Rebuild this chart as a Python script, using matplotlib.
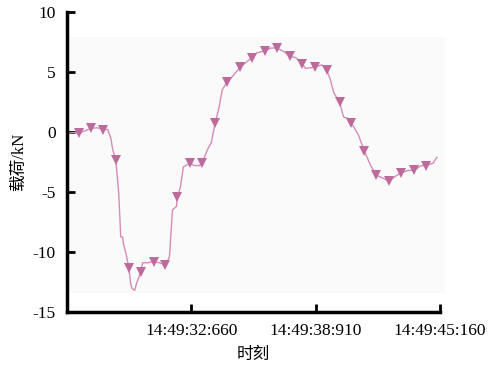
import matplotlib
matplotlib.use("Agg")
import matplotlib.pyplot as plt
from matplotlib.patches import Rectangle

plt.rcParams['font.family'] = ['Liberation Serif', 'Noto Sans CJK SC']
plt.rcParams['axes.unicode_minus'] = False

# time in seconds after 14:49:00
line_t = [26.41, 26.71, 27.01, 27.31, 27.61, 27.91, 28.21, 28.46, 28.61, 28.71,
          28.86, 29.01, 29.11, 29.21, 29.23, 29.41, 29.51, 29.61, 29.66, 29.81,
          29.91, 30.11, 30.21, 30.46, 30.76, 31.06, 31.36, 31.56, 31.71, 31.91,
          31.96, 32.11, 32.26, 32.61, 32.81, 33.06, 33.21, 33.46, 33.66, 33.86,
          34.06, 34.21, 34.46, 34.71, 35.11, 35.41, 35.71, 35.96, 36.36, 36.66,
          36.96, 37.31, 37.61, 37.91, 38.21, 38.41, 38.86, 39.21, 39.46, 39.66,
          39.81, 40.11, 40.31, 40.51, 40.71, 41.06, 41.36, 41.66, 41.96, 42.16,
          42.61, 42.91, 43.21, 43.56, 43.86, 44.21, 44.46, 44.81, 45.01]
line_v = [-0.1, -0.05, -0.1, 0.1, 0.3, 0.35, 0.25, 0.2, -0.5, -1.5,
          -2.3, -5.1, -8.75, -8.75, -9.2, -10.4, -11.3, -12.6, -13.0, -13.2,
          -12.6, -11.7, -10.9, -10.9, -10.8, -10.9, -11.1, -10.4, -6.5, -6.2,
          -5.4, -4.6, -2.9, -2.6, -2.8, -2.8, -2.6, -1.5, -0.9, 0.75,
          2.1, 3.5, 4.2, 4.6, 5.4, 5.8, 6.2, 6.6, 6.75, 7.0,
          7.0, 6.7, 6.3, 6.2, 5.7, 5.3, 5.4, 5.6, 5.2, 4.3,
          3.3, 2.5, 1.25, 1.15, 0.75, -0.25, -1.6, -2.75, -3.6, -3.75,
          -4.1, -3.7, -3.4, -3.2, -3.2, -2.8, -2.8, -2.6, -2.1]

mark_t = [27.01, 27.61, 28.21, 28.86, 29.51, 30.11, 30.76, 31.36, 31.96, 32.61,
          33.21, 33.86, 34.46, 35.11, 35.71, 36.36, 36.96, 37.61, 38.21, 38.86,
          39.46, 40.11, 40.71, 41.36, 41.96, 42.61, 43.21, 43.86, 44.46]
mark_v = [-0.1, 0.3, 0.2, -2.3, -11.3, -11.7, -10.8, -11.1, -5.4, -2.6,
          -2.6, 0.75, 4.2, 5.4, 6.2, 6.75, 7.0, 6.3, 5.7, 5.4,
          5.2, 2.5, 0.75, -1.6, -3.6, -4.1, -3.4, -3.2, -2.8]

tick_t = [32.66, 38.91, 45.16]
tick_labels = ['14:49:32:660', '14:49:38:910', '14:49:45:160']
y_ticks = [-15, -10, -5, 0, 5, 10]

fig = plt.figure(figsize=(4.95, 3.67), dpi=100)
ax = fig.add_axes([0.1354, 0.1499, 0.7535, 0.8174])

ax.add_patch(Rectangle((26.41, -13.4), 19.0, 21.3, facecolor='#fafafa',
                       edgecolor='none', clip_on=False, zorder=0))

ax.plot(line_t, line_v, color='#d58cb8', lw=1.0, zorder=2)
ax.plot(mark_t, mark_v, ls='none', marker='v', ms=7, color='#bd6a9c',
        markeredgewidth=0, zorder=3)

ax.set_xlim(26.41, 45.16)
ax.set_ylim(-15, 10)
ax.set_xticks(tick_t)
ax.set_xticklabels(tick_labels)
ax.set_yticks(y_ticks)

for s in ['top', 'right']:
    ax.spines[s].set_visible(False)
for s in ['left', 'bottom']:
    ax.spines[s].set_linewidth(2.5)
ax.patch.set_visible(False)
ax.tick_params(direction='in', length=6, width=2, labelsize=12.5)
ax.tick_params(axis='x', pad=8)
ax.tick_params(axis='y', pad=8)

ax.set_ylabel('载荷/kN', fontsize=12, labelpad=4)
ax.set_xlabel('时刻', fontsize=12, labelpad=6)

fig.savefig('out.png', dpi=100)
